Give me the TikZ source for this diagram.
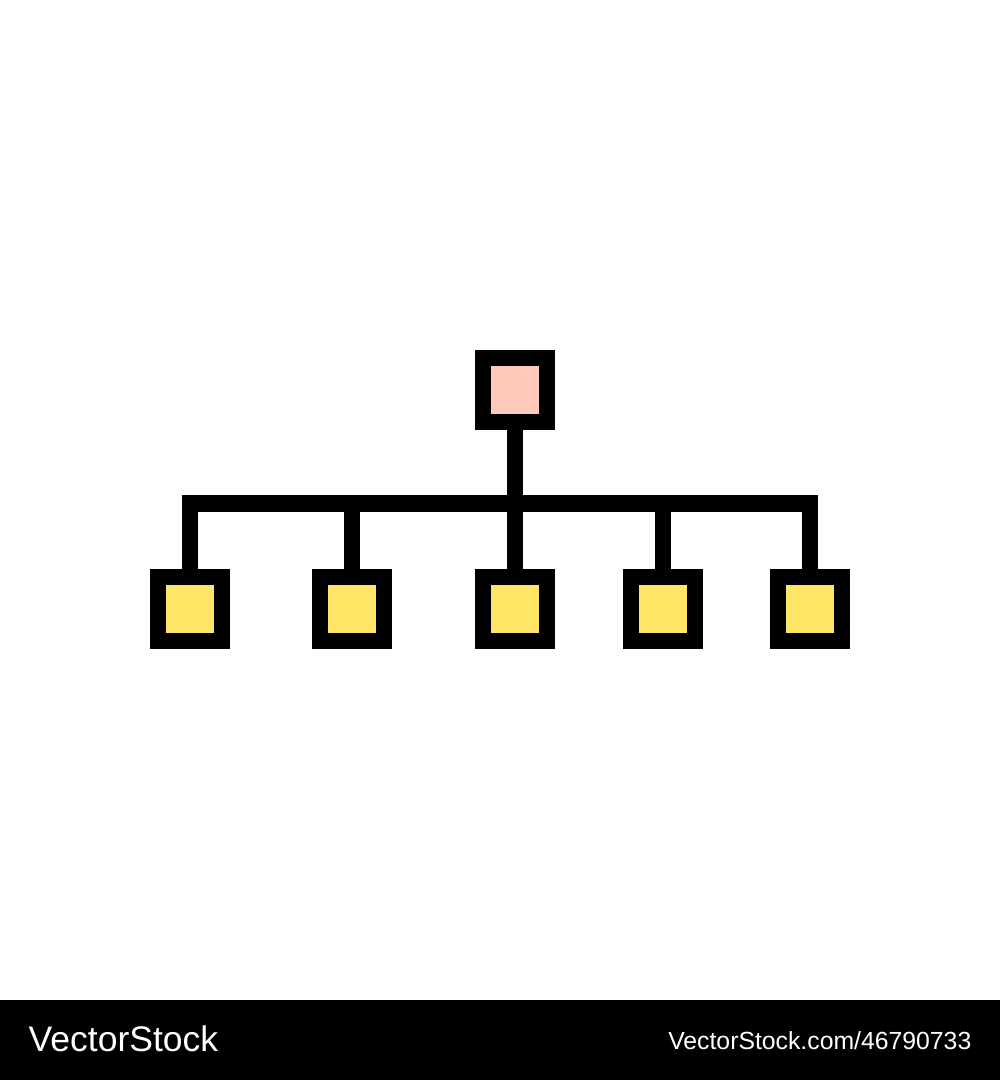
\documentclass[tikz,border=0pt]{standalone}
\usepackage{fontspec}
\newfontfamily\wmfont{Liberation Sans}
\usepackage{tikz}

\definecolor{rootfill}{HTML}{FFC9B9}
\definecolor{leaffill}{HTML}{FFE566}
\tikzset{
    box/.style={rectangle,draw=black,line width=0.165cm,minimum size=0.64cm,inner sep=0,outer sep=0},
    link/.style={line width=0.165cm}
}

\begin{document}
\begin{tikzpicture}
    \useasboundingbox (0,0) rectangle (10,10.8);
    \fill[black] (0,0) rectangle (10,0.8);
    \node[box,fill=rootfill] (root) at (5.15,6.90) {};
    \node[box,fill=leaffill] (leafa) at (1.90,4.71) {};
    \node[box,fill=leaffill] (leafb) at (3.52,4.71) {};
    \node[box,fill=leaffill] (leafc) at (5.15,4.71) {};
    \node[box,fill=leaffill] (leafd) at (6.63,4.71) {};
    \node[box,fill=leaffill] (leafe) at (8.10,4.71) {};
    \coordinate (bus) at (5.15,5.765);
    \draw[link] (root.south) -- (leafc.north);
    \draw[link] (leafa.north) |- (bus) -| (leafe.north);
    \draw[link] (leafb.north) -- (leafb.north |- bus);
    \draw[link] (leafd.north) -- (leafd.north |- bus);
    \node[anchor=base west,inner sep=0,text=white,font=\wmfont\fontsize{10.1}{12}\selectfont] (brand) at (0.28,0.28) {VectorStock};
    \node[anchor=base east,inner sep=0,text=white,font=\wmfont\fontsize{7.05}{8}\selectfont] (ref) at (9.72,0.30) {VectorStock.com/46790733};
\end{tikzpicture}
\end{document}
